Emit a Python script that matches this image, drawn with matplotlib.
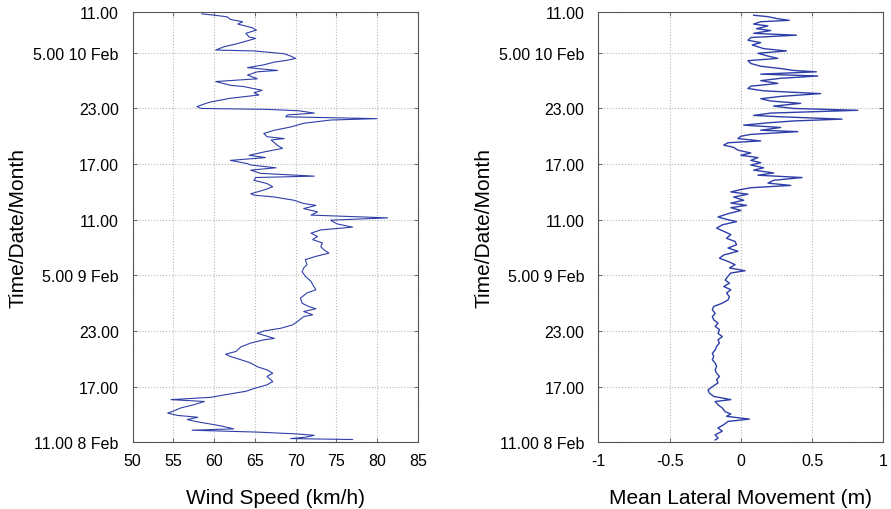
import matplotlib
matplotlib.use('Agg')
import matplotlib.pyplot as plt

plt.rcParams['font.family'] = ['Liberation Sans', 'DejaVu Sans']

# hours after 11.00 8 Feb
wind_hours = [46.2, 46.06, 45.88, 45.6, 45.35, 45.1, 44.7, 44.45, 44.1, 43.7, 43.55, 43.3, 43.0, 42.65, 42.3,
              42.2, 41.9, 41.65, 41.4, 41.2, 41.0, 40.7, 40.4, 40.1, 39.95, 39.6, 39.2, 38.9, 38.5, 38.35,
              37.95, 37.7, 37.45, 37.1, 36.7, 36.55, 36.2, 36.0, 35.9, 35.75, 35.5, 35.3, 35.1, 34.9, 34.75,
              34.4, 34.0, 33.65, 33.3, 32.95, 32.75, 32.6, 32.0, 31.7, 31.3, 30.95, 30.7, 30.4, 30.05, 29.9,
              29.6, 29.35, 29.0, 28.7, 28.55, 28.25, 27.9, 27.55, 27.2, 26.8, 26.65, 26.45, 26.1, 25.75, 25.55,
              25.2, 24.85, 24.5, 24.2, 23.95, 23.55, 23.2, 22.9, 22.55, 22.2, 21.85, 21.5, 21.1, 20.75, 20.4,
              20.05, 19.7, 19.15, 18.8, 18.4, 17.9, 17.35, 17.0, 16.45, 16.1, 15.55, 15.0, 14.65, 14.4, 14.1,
              13.75, 13.55, 13.0, 12.65, 12.3, 12.0, 11.75, 11.6, 11.2, 11.05, 10.7, 10.3, 9.8, 9.5, 9.25,
              8.9, 8.55, 8.15, 7.8, 7.45, 7.1, 6.55, 6.2, 5.85, 5.5, 5.1, 4.85, 4.6, 4.4, 4.05,
              3.7, 3.4, 3.15, 2.9, 2.7, 2.45, 2.2, 1.9, 1.7, 1.45, 1.3, 1.1, 0.9, 0.75, 0.55,
              0.4, 0.3]
wind_speed = [58.5, 60.0, 61.6, 62.0, 63.5, 62.9, 64.7, 65.2, 63.9, 64.3, 65.1, 64.1, 62.9, 61.2, 60.2,
              64.9, 68.6, 69.4, 70.0, 69.0, 67.4, 66.1, 64.1, 67.8, 65.3, 64.1, 65.3, 60.2, 62.0, 63.7,
              65.9, 64.9, 65.5, 62.0, 59.6, 59.0, 57.9, 58.4, 66.5, 70.4, 72.3, 69.0, 68.8, 80.0, 74.3,
              71.0, 69.4, 67.4, 66.1, 66.5, 68.6, 67.0, 67.8, 68.4, 66.1, 64.3, 66.3, 62.0, 64.1, 64.5,
              67.6, 64.5, 65.7, 72.3, 65.1, 64.9, 66.5, 67.2, 66.1, 64.5, 64.9, 67.4, 69.8, 71.0, 72.5,
              71.0, 72.7, 71.9, 81.3, 74.3, 75.1, 77.0, 73.1, 71.9, 72.7, 72.1, 73.3, 73.1, 73.5, 74.1,
              72.5, 71.2, 71.4, 71.0, 70.8, 71.2, 71.9, 72.1, 72.5, 71.4, 70.6, 70.8, 71.6, 72.5, 71.0,
              72.1, 71.0, 70.2, 69.6, 68.2, 66.1, 65.3, 65.9, 67.4, 66.1, 64.5, 63.3, 62.7, 61.4, 62.0,
              63.3, 64.5, 65.3, 66.5, 67.2, 66.5, 67.2, 66.5, 65.1, 63.9, 61.2, 59.6, 54.7, 58.8, 57.5,
              55.9, 55.1, 54.3, 55.5, 58.0, 56.7, 58.0, 60.0, 61.2, 62.4, 57.3, 65.3, 70.2, 72.3, 71.2,
              69.4, 77.0]

move_hours = [46.05, 45.9, 45.7, 45.5, 45.35, 45.1, 44.9, 44.6, 44.4, 44.1, 43.9, 43.65, 43.35, 43.1, 42.85,
              42.45, 42.2, 41.95, 41.65, 41.4, 41.15, 40.85, 40.55, 40.3, 40.1, 39.95, 39.7, 39.5, 39.25, 39.0,
              38.7, 38.4, 38.15, 37.9, 37.6, 37.3, 37.05, 36.8, 36.55, 36.25, 36.0, 35.8, 35.5, 35.25, 35.1,
              34.85, 34.65, 34.45, 34.2, 33.95, 33.65, 33.5, 33.2, 33.0, 32.75, 32.5, 32.3, 32.05, 31.8, 31.5,
              31.2, 30.95, 30.7, 30.4, 30.15, 29.9, 29.6, 29.35, 29.05, 28.8, 28.55, 28.25, 27.95, 27.7, 27.45,
              27.25, 27.0, 26.75, 26.45, 26.1, 25.8, 25.55, 25.3, 25.0, 24.65, 24.3, 24.0, 23.8, 23.45, 23.1,
              22.75, 22.4, 22.0, 21.65, 21.3, 20.95, 20.6, 20.2, 19.85, 19.5, 19.15, 18.8, 18.5, 18.25, 17.9,
              17.5, 17.15, 16.8, 16.45, 16.1, 15.7, 15.35, 15.0, 14.65, 14.3, 13.9, 13.55, 13.2, 12.85, 12.5,
              12.15, 11.75, 11.4, 11.05, 10.7, 10.35, 9.95, 9.6, 9.25, 8.9, 8.55, 8.2, 7.8, 7.45, 7.1,
              6.75, 6.4, 6.0, 5.65, 5.3, 4.95, 4.6, 4.4, 4.05, 3.7, 3.3, 3.05, 2.8, 2.5, 2.25,
              1.9, 1.55, 1.2, 0.8, 0.45, 0.25]
move_value = [0.09, 0.19, 0.25, 0.34, 0.14, 0.09, 0.19, 0.11, 0.21, 0.09, 0.39, 0.07, 0.05, 0.14, 0.08,
              0.16, 0.32, 0.12, 0.19, 0.26, 0.05, 0.07, 0.14, 0.28, 0.37, 0.53, 0.14, 0.54, 0.28, 0.14,
              0.26, 0.07, 0.05, 0.16, 0.56, 0.28, 0.14, 0.21, 0.42, 0.23, 0.37, 0.82, 0.21, 0.09, 0.28,
              0.71, 0.37, 0.19, 0.02, 0.28, 0.14, 0.40, 0.07, 0.0, -0.02, 0.14, -0.09, -0.12, -0.05, -0.02,
              0.07, 0.0, 0.12, 0.07, 0.14, 0.07, 0.16, 0.09, 0.23, 0.12, 0.43, 0.23, 0.19, 0.35, 0.07,
              0.0, -0.07, 0.05, -0.05, 0.02, -0.07, 0.04, -0.07, 0.0, -0.09, -0.16, -0.09, -0.03, -0.13, -0.17,
              -0.12, -0.07, -0.10, -0.04, -0.03, -0.09, -0.02, -0.12, -0.15, -0.09, -0.04, -0.08, 0.03, -0.07, -0.09,
              -0.11, -0.08, -0.12, -0.07, -0.10, -0.08, -0.09, -0.13, -0.19, -0.20, -0.18, -0.20, -0.19, -0.16, -0.18,
              -0.15, -0.16, -0.13, -0.16, -0.15, -0.17, -0.18, -0.20, -0.19, -0.20, -0.18, -0.17, -0.18, -0.17, -0.15,
              -0.17, -0.16, -0.20, -0.23, -0.22, -0.19, -0.07, -0.18, -0.16, -0.13, -0.11, -0.07, -0.10, 0.06, -0.09,
              -0.12, -0.16, -0.13, -0.18, -0.16, -0.18]

tick_hours = [0, 6, 12, 18, 24, 30, 36, 42, 46.4]
tick_labels = ['11.00 8 Feb', '17.00', '23.00', '5.00 9 Feb', '11.00', '17.00', '23.00', '5.00 10 Feb', '11.00']

line_col = '#2f3fa8'

fig = plt.figure(figsize=(8.91, 5.1), dpi=100)
ax1 = fig.add_axes([0.1489, 0.1308, 0.3199, 0.8437])
ax2 = fig.add_axes([0.6715, 0.1308, 0.3199, 0.8437])

ax1.plot(wind_speed, wind_hours, color=line_col, lw=0.8)
ax2.plot(move_value, move_hours, color=line_col, lw=1.0)

ax1.set_xlim(50, 85)
ax1.set_xticks([50, 55, 60, 65, 70, 75, 80, 85])
ax1.set_xlabel('Wind Speed (km/h)', fontsize=15, labelpad=14)

ax2.set_xlim(-1, 1)
ax2.set_xticks([-1, -0.5, 0, 0.5, 1])
ax2.set_xticklabels(['-1', '-0.5', '0', '0.5', '1'])
ax2.set_xlabel('Mean Lateral Movement (m)', fontsize=15, labelpad=14)

for ax in (ax1, ax2):
    ax.set_ylim(0, 46.4)
    ax.set_yticks(tick_hours)
    ax.set_yticklabels(tick_labels)
    ax.set_ylabel('Time/Date/Month', fontsize=15, labelpad=4)
    ax.grid(True, linestyle=':', color='#b8b8b8', lw=0.8)
    ax.tick_params(direction='in', length=3, width=0.6, color='#555555',
                   top=True, right=True, labelsize=11.5)
    ax.tick_params(axis='y', pad=10)
    ax.tick_params(axis='x', pad=8)
    for s in ax.spines.values():
        s.set_color('#555555')
        s.set_linewidth(0.8)

plt.savefig('out.png', dpi=100)
